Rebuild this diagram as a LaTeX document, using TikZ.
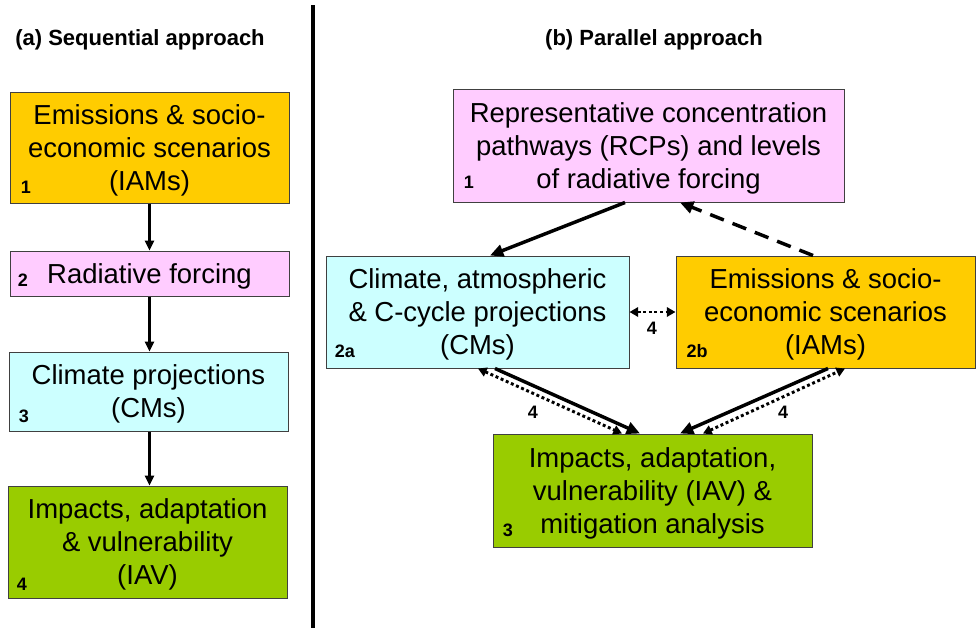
\documentclass[tikz,border=0pt]{standalone}
\usepackage{fontspec}
\setmainfont{Liberation Sans}
\usetikzlibrary{arrows.meta}
\definecolor{emisOrange}{HTML}{FFCC00}
\definecolor{forcPink}{HTML}{FFCCFF}
\definecolor{climCyan}{HTML}{CCFFFF}
\definecolor{iavGreen}{HTML}{99CC00}
\begin{document}
\begin{tikzpicture}[x=0.75pt,y=0.75pt,title node/.style={font=\bfseries\fontsize{16.5}{20}\selectfont, inner sep=0pt},box node/.style={draw=black!75, line width=0.75pt, align=center, inner sep=0pt, text depth=0pt, font=\fontsize{20.6}{24.75}\selectfont},num node/.style={font=\bfseries\fontsize{13.5}{15}\selectfont, inner sep=0pt},seq arrow/.style={line width=1.6pt, -{Triangle[length=7.5pt,width=7pt]}},par arrow/.style={line width=2.6pt, -{Triangle[length=10pt,width=9pt]}},link arrow/.style={line width=2.2pt, dash pattern=on 2.2pt off 2pt, {Triangle[length=6.5pt,width=7pt]}-{Triangle[length=6.5pt,width=7pt]}},num4/.style={num node}]%
\path[use as bounding box] (0,0) rectangle (976,-628);%
\node[title node] (titleA) at (140,-40) {(a) Sequential approach};%
\node[title node] (titleB) at (654,-40) {(b) Parallel approach};%
\draw[line width=3pt] (313,-5) -- (313,-628);%
  % Sequential approach%
\node[box node, fill=emisOrange, minimum width=209.25pt, minimum height=83.25pt] (emisA) at (149.5,-147.5) {Emissions \& socio-\\economic scenarios\\(IAMs)};%
\node[box node, fill=forcPink, minimum width=209.25pt, minimum height=33.75pt] (forcA) at (149.5,-273.5) {Radiative forcing};%
\node[box node, fill=climCyan, minimum width=209.25pt, minimum height=59.25pt] (climA) at (148.5,-391.5) {Climate projections\\(CMs)};%
\node[box node, fill=iavGreen, minimum width=209.25pt, minimum height=84pt] (iavA) at (147.5,-542) {Impacts, adaptation\\\& vulnerability\\(IAV)};%
\node[num node] (nA1) at (26,-187) {1};%
\node[num node] (nA2) at (23,-280) {2};%
\node[num node] (nA3) at (24,-416) {3};%
\node[num node] (nA4) at (22,-584) {4};%
\draw[seq arrow] (emisA.south) -- (emisA.south |- forcA.north);%
\draw[seq arrow] (emisA.south |- forcA.south) -- (emisA.south |- climA.north);%
\draw[seq arrow] (emisA.south |- climA.south) -- (emisA.south |- iavA.north);%
  % Parallel approach%
\node[box node, fill=forcPink, minimum width=293.25pt, minimum height=84.75pt] (rcpB) at (648.5,-145.5) {Representative concentration\\pathways (RCPs) and levels\\of radiative forcing};%
\node[box node, fill=climCyan, minimum width=227.25pt, minimum height=84pt] (climB) at (477.5,-312) {Climate, atmospheric\\\& C-cycle projections\\(CMs)};%
\node[box node, fill=emisOrange, minimum width=224.25pt, minimum height=84pt] (emisB) at (825.5,-312) {Emissions \& socio-\\economic scenarios\\(IAMs)};%
\node[box node, fill=iavGreen, minimum width=239.25pt, minimum height=84.75pt] (iavB) at (652.5,-490.5) {Impacts, adaptation,\\vulnerability (IAV) \&\\mitigation analysis};%
\node[num node] (nB1) at (469,-182) {1};%
\node[num node] (nB2a) at (345,-351) {2a};%
\node[num node] (nB2b) at (697,-351) {2b};%
\node[num node] (nB3) at (508,-530) {3};%
\draw[par arrow] ([shift={(-23.5,0)}]rcpB.south) -- ([shift={(12.5,0)}]climB.north);%
\draw[par arrow, dash pattern=on 11pt off 7pt] ([shift={(-12.5,0)}]emisB.north) -- ([shift={(31.5,0)}]rcpB.south);%
\draw[link arrow] (climB.east) -- (emisB.west);%
\draw[par arrow] ([shift={(17.5,0)}]climB.south) -- ([shift={(-12.5,0)}]iavB.north);%
\draw[link arrow] ([shift={(0.5,0)}]climB.south) -- ([shift={(-30.5,0)}]iavB.north);%
\draw[par arrow] ([shift={(2.5,0)}]emisB.south) -- ([shift={(27.5,0)}]iavB.north);%
\draw[link arrow] ([shift={(50.5,0)}]iavB.north) -- ([shift={(19.5,0)}]emisB.south);%
\node[num4] (lnkMid) at (652,-328) {4};%
\node[num4] (lnkLeft) at (533,-412) {4};%
\node[num4] (lnkRight) at (783,-412) {4};%
\end{tikzpicture}
\end{document}
